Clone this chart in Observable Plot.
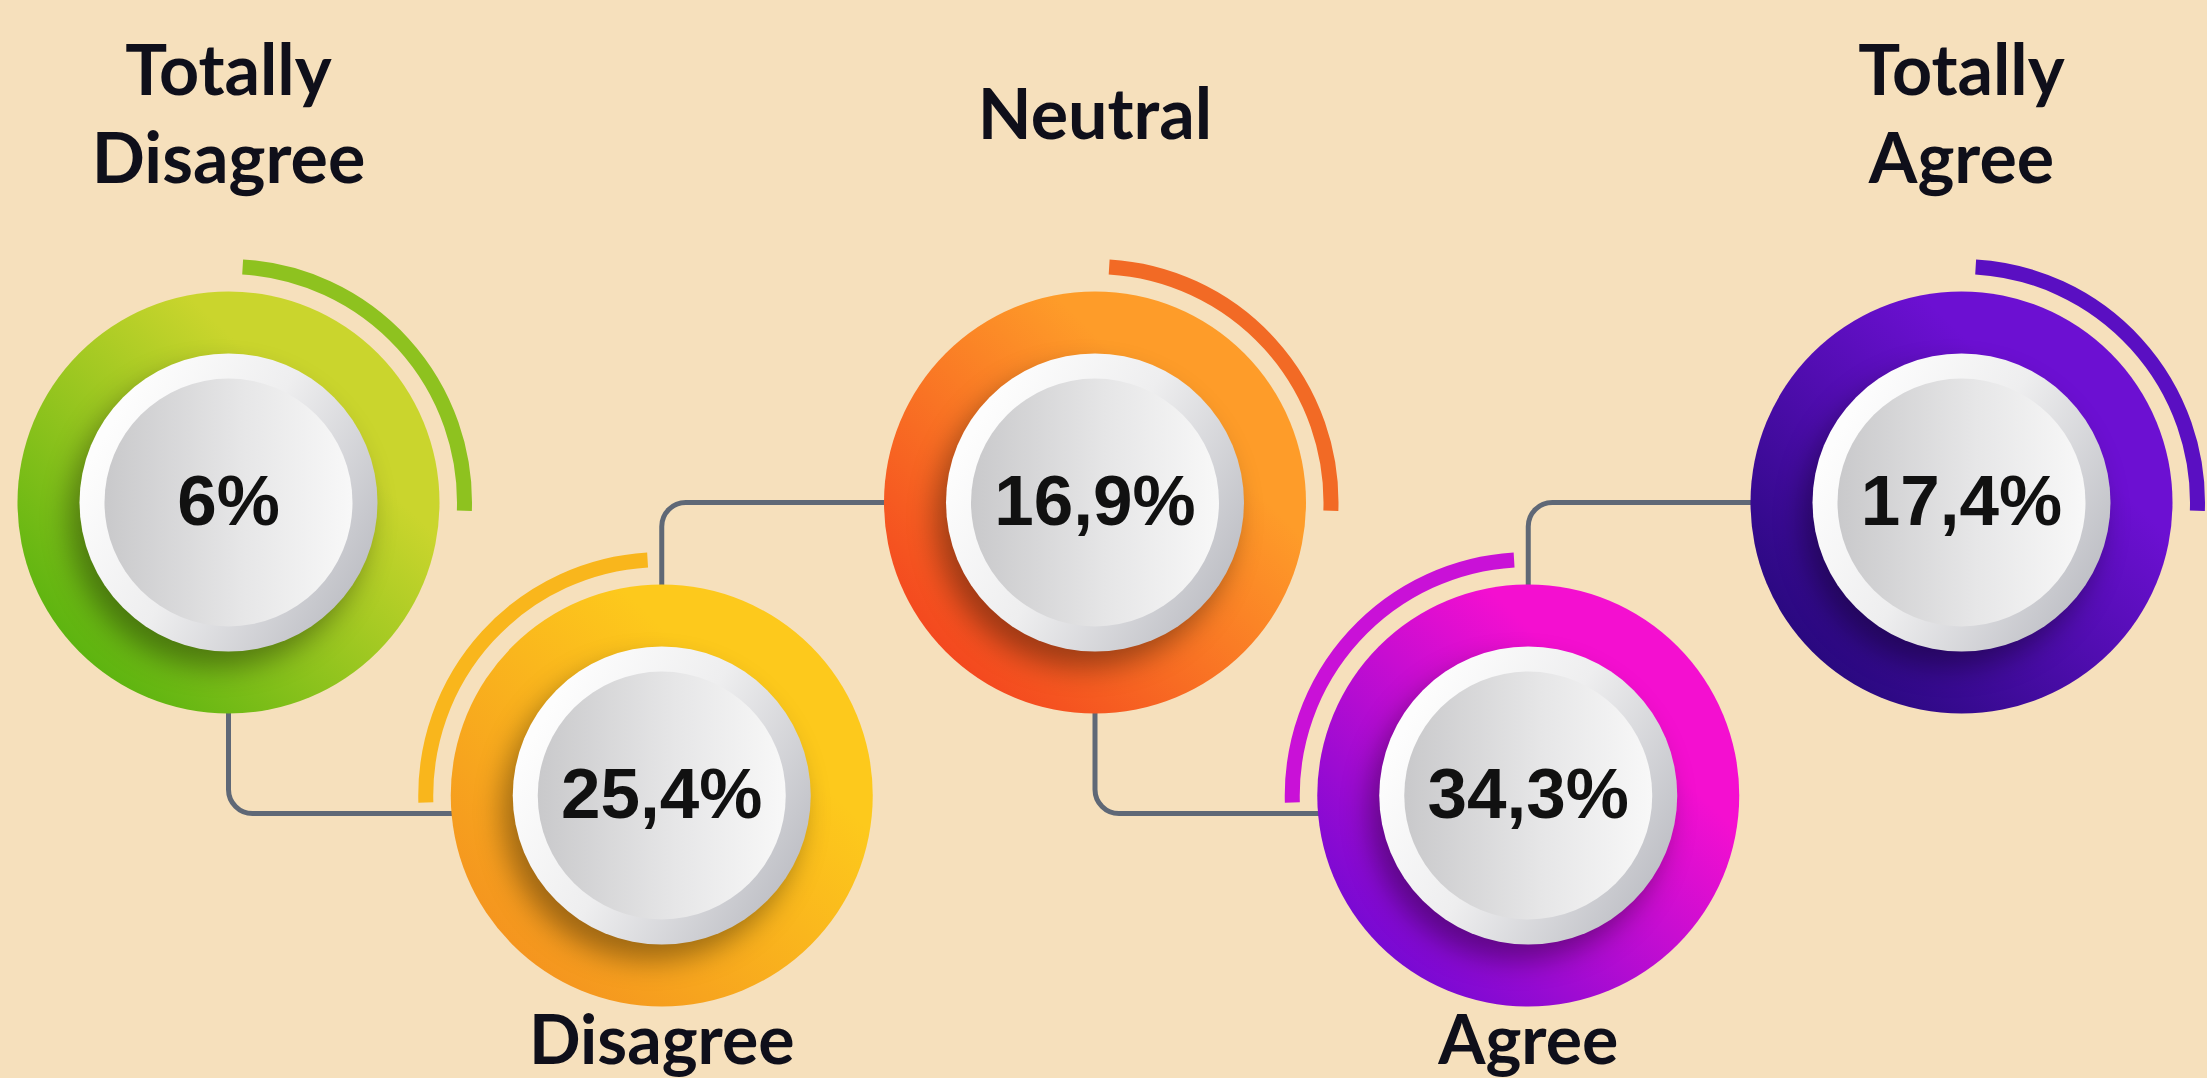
<!DOCTYPE html>
<html>
<head>
<meta charset="utf-8">
<script src="https://cdn.jsdelivr.net/npm/d3@7"></script>
<script src="https://cdn.jsdelivr.net/npm/@observablehq/plot@0.6"></script>
<style>
  html, body { margin: 0; padding: 0; background: #f6e0bc; overflow: hidden; }
  #chart svg { display: block; }
</style>
</head>
<body>
<div id="chart"></div>
<script>
// ---- data ----
const categories = ["Totally\nDisagree", "Disagree", "Neutral", "Agree", "Totally\nAgree"];
const values = [6, 25.4, 16.9, 34.3, 17.4];

// ---- palette (styles) ----
const ringLight = ["#cad52d", "#fdc91c", "#fe9c29", "#f40fd0", "#6c10d2"];
const ringDark  = ["#56b20e", "#f4921f", "#f3431e", "#7009d3", "#25087a"];
const arcColors = ["#8ec21f", "#f9b61c", "#f26a25", "#c911d7", "#5a0fc2"];

const fmt = v => String(v).replace(".", ",") + "%";

const data = categories.map((category, i) => ({category, value: values[i], i, row: i % 2}));
const links = d3.pairs(data).flatMap(([a, b], k) => [
  {k, x: a.i, y: a.row},
  {k, x: b.i, y: b.row}
]);

// rounded step curve: vertical first, then horizontal
function RoundStep(context) { this._context = context; }
RoundStep.prototype = {
  areaStart() { this._line = 0; },
  areaEnd() { this._line = NaN; },
  lineStart() { this._x = this._y = NaN; this._point = 0; },
  lineEnd() { this._line = 1 - this._line; },
  point(x, y) {
    x = +x; y = +y;
    if (this._point === 0) {
      this._point = 1;
      this._line ? this._context.lineTo(x, y) : this._context.moveTo(x, y);
    } else {
      const r = 24;
      const x0 = this._x, y0 = this._y;
      const sy = Math.sign(y - y0), sx = Math.sign(x - x0);
      this._context.lineTo(x0, y - sy * r);
      this._context.arcTo(x0, y, x0 + sx * r, y, r);
      this._context.lineTo(x, y);
    }
    this._x = x; this._y = y;
  }
};
const roundStep = context => new RoundStep(context);

// arc symbols (decorative quarter arcs)
const arcTop = { draw(context, size) {
  const R = Math.sqrt(size / Math.PI);
  context.arc(0, 0, R, -Math.PI / 2 + 0.06, 0.035);
}};
const arcBottom = { draw(context, size) {
  const R = Math.sqrt(size / Math.PI);
  context.arc(0, 0, R, Math.PI - 0.03, 1.5 * Math.PI - 0.06);
}};

const labelStyle = {fontFamily: "Lato, 'Open Sans', sans-serif", fontWeight: 700, fontSize: 70, fill: "#0f0f1a", lineAnchor: "middle", lineHeight: 1.27};
const lineStyle = {x: "x", y: "y", z: "k", curve: roundStep, stroke: "#5f6876", strokeWidth: 5};

const plot = Plot.plot({
  width: 2207,
  height: 1078,
  margin: 0,
  x: {domain: [0, 4], range: [228, 1961], axis: null},
  y: {domain: [0, 1], range: [502, 795], axis: null},
  color: {type: "identity"},
  style: {background: "transparent", overflow: "visible"},
  marks: [
    Plot.line(links, {...lineStyle, filter: d => d.k % 2 === 0, dy: 18}),
    Plot.line(links, {...lineStyle, filter: d => d.k % 2 === 1}),
    Plot.dot(data, {filter: d => d.row === 0, x: "i", y: "row", r: 236, symbol: arcTop,
      fill: "none", stroke: d => arcColors[d.i], strokeWidth: 15}),
    Plot.dot(data, {filter: d => d.row === 1, x: "i", y: "row", r: 236, symbol: arcBottom,
      fill: "none", stroke: d => arcColors[d.i], strokeWidth: 15}),
    Plot.dot(data, {x: "i", y: "row", r: 211, fill: d => `url(#ring${d.i})`, stroke: "none"}),
    Plot.dot(data, {x: "i", y: "row", r: 149, fill: "url(#rim)", stroke: "none",
      imageFilter: "drop-shadow(-10px 16px 14px rgba(0,0,0,0.36))"}),
    Plot.dot(data, {x: "i", y: "row", r: 124, fill: "url(#face)", stroke: "none"}),
    Plot.text(data, {x: "i", y: "row", text: d => fmt(d.value), fontFamily: "'Liberation Sans', Arial, sans-serif",
      fontWeight: 700, fontSize: 71, fill: "#111111"}),
    Plot.text(data, {filter: d => d.row === 0, x: "i", y: "row", text: "category", dy: -392, ...labelStyle}),
    Plot.text(data, {filter: d => d.row === 1, x: "i", y: "row", text: "category", dy: 241, ...labelStyle, fontSize: 68})
  ]
});

// gradient definitions
const svg = d3.select(plot);
const defs = svg.insert("defs", ":first-child");
data.forEach(d => {
  const g = defs.append("linearGradient").attr("id", `ring${d.i}`)
    .attr("x1", 0.9).attr("y1", 0.1).attr("x2", 0.12).attr("y2", 0.9);
  g.append("stop").attr("offset", "0.25").attr("stop-color", ringLight[d.i]);
  g.append("stop").attr("offset", "1").attr("stop-color", ringDark[d.i]);
});
const rim = defs.append("linearGradient").attr("id", "rim")
  .attr("x1", 0.1).attr("y1", 0.25).attr("x2", 0.95).attr("y2", 0.75);
rim.append("stop").attr("offset", "0").attr("stop-color", "#fdfdfd");
rim.append("stop").attr("offset", "0.45").attr("stop-color", "#eeeeef");
rim.append("stop").attr("offset", "1").attr("stop-color", "#bfc0c6");
const face = defs.append("linearGradient").attr("id", "face")
  .attr("x1", 0).attr("y1", 0.5).attr("x2", 1).attr("y2", 0.5);
face.append("stop").attr("offset", "0").attr("stop-color", "#c9c9cb");
face.append("stop").attr("offset", "0.55").attr("stop-color", "#e6e6e7");
face.append("stop").attr("offset", "1").attr("stop-color", "#f8f8f8");

document.getElementById("chart").appendChild(plot);
</script>
</body>
</html>
